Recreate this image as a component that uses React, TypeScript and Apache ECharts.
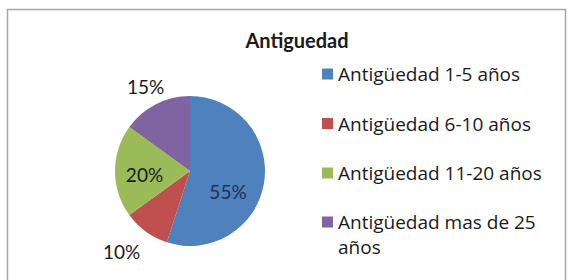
import React, { useEffect, useRef } from "react";
import * as echarts from "echarts";

const title = "Antiguedad";
const categories = [
  "Antigüedad 1-5 años",
  "Antigüedad 6-10 años",
  "Antigüedad 11-20 años",
  "Antigüedad mas de 25 años",
];
const values = [55, 10, 20, 15];
const colors = ["#4F81BD", "#C0504D", "#9BBB59", "#8064A2"];
const labelPositions = ["inside", "outside", "inside", "outside"];
const labelColors = ["#1f2f55", "#1a1a1a", "#1a1a1a", "#1a1a1a"];

const FONT = "Lato, 'Noto Sans', sans-serif";
const LEGEND_FONT = "'Open Sans', Lato, sans-serif";

export default function App() {
  const ref = useRef<HTMLDivElement>(null);
  useEffect(() => {
    document.body.style.margin = "0";
    if (!ref.current) return;
    const chart = echarts.init(ref.current, undefined, { renderer: "svg" });
    const legendTops = [61.5, 111, 160.5, 184.5];
    // small nudges of the library-placed labels, to follow the reference's label placement
    const labelNudges = [
      [-2, 14],
      [4, 13],
      [-5, 3],
      [17, -11],
    ];
    chart.setOption({
      animation: false,
      backgroundColor: "#ffffff",
      title: {
        text: title,
        left: 292,
        top: 25,
        textAlign: "center",
        textStyle: { fontFamily: FONT, fontSize: 20, fontWeight: "bold", color: "#1a1a1a" },
      },
      graphic: [
        {
          type: "rect",
          shape: { x: 7.5, y: 9.5, width: 558, height: 300 },
          style: { fill: "none", stroke: "#a6a6a6", lineWidth: 1.5 },
          silent: true,
        },
      ],
      legend: categories.map((name, i) => ({
        orient: "vertical",
        left: 322,
        top: legendTops[i],
        data: [name],
        icon: "rect",
        itemWidth: 11,
        itemHeight: 11,
        itemGap: 0,
        padding: 0,
        selectedMode: false,
        formatter: (n: string) => (n === categories[3] ? "\nAntigüedad mas de 25\naños" : n),
        textStyle: {
          fontFamily: LEGEND_FONT,
          fontSize: 19,
          color: "#1a1a1a",
          lineHeight: 25,
        },
      })),
      series: [
        {
          type: "pie",
          center: [190, 171],
          radius: 75,
          startAngle: 90,
          clockwise: true,
          data: categories.map((name, i) => ({
            name,
            value: values[i],
            itemStyle: { color: colors[i] },
            label: { position: labelPositions[i], color: labelColors[i] },
          })),
          label: {
            show: true,
            formatter: "{d}%",
            fontFamily: FONT,
            fontSize: 19,
          },
          labelLine: { show: false, length: 8, length2: 0 },
          labelLayout: (p: any) => ({
            dx: labelNudges[p.dataIndex][0],
            dy: labelNudges[p.dataIndex][1],
          }),
          itemStyle: { borderWidth: 0 },
          emphasis: { disabled: true },
        },
      ],
    });
    return () => chart.dispose();
  }, []);
  return <div ref={ref} style={{ width: 571, height: 280 }} />;
}
